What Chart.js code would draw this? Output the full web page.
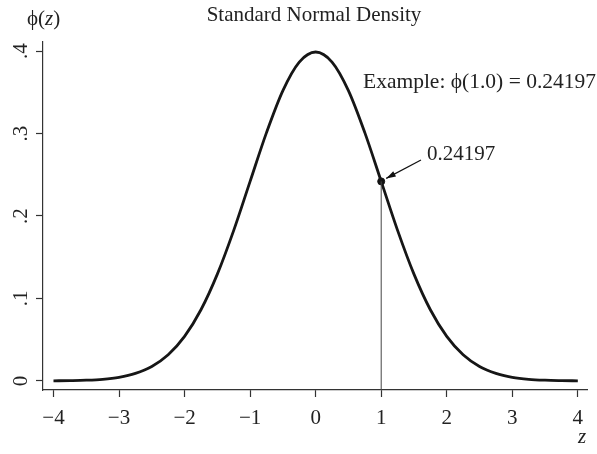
<!DOCTYPE html>
<html>
<head>
<meta charset="utf-8">
<script src="https://cdn.jsdelivr.net/npm/chart.js@4"></script>
<style>
  body { margin: 0; background: #fff; }
  #wrap { width: 597px; height: 454px; }
</style>
</head>
<body>
<div id="wrap"><canvas id="densityChart" width="597" height="454"></canvas></div>
<script>
// Datos
const zValues = [-4, -3.75, -3.5, -3.25, -3, -2.75, -2.5, -2.25, -2, -1.75, -1.5, -1.25, -1, -0.75, -0.5, -0.25,
                 0, 0.25, 0.5, 0.75, 1, 1.25, 1.5, 1.75, 2, 2.25, 2.5, 2.75, 3, 3.25, 3.5, 3.75, 4];
const densityValues = [0.0001, 0.0004, 0.0009, 0.0020, 0.0044, 0.0091, 0.0175, 0.0317, 0.0540, 0.0863, 0.1295, 0.1826, 0.2420, 0.3011, 0.3521, 0.3867,
                       0.3989, 0.3867, 0.3521, 0.3011, 0.2420, 0.1826, 0.1295, 0.0863, 0.0540, 0.0317, 0.0175, 0.0091, 0.0044, 0.0020, 0.0009, 0.0004, 0.0001];
const xTicks = [-4, -3, -2, -1, 0, 1, 2, 3, 4];
const yTicks = [0, 0.1, 0.2, 0.3, 0.4];
const yTickLabels = ['0', '.1', '.2', '.3', '.4'];
const exampleZ = [1];
const exampleDensity = [0.24197];

const serif = '"Liberation Serif", "DejaVu Serif", serif';
const ctx = document.getElementById('densityChart').getContext('2d');

// Textos, etiquetas del eje Y, línea vertical y flecha
const annotations = {
    id: 'annotations',
    afterDraw(chart) {
        const c = chart.ctx;
        const xs = chart.scales.x, ys = chart.scales.y;
        const area = chart.chartArea;
        c.save();
        c.fillStyle = '#222';

        // etiquetas Y giradas
        c.font = '21px ' + serif;
        c.textAlign = 'center';
        c.textBaseline = 'middle';
        yTicks.forEach((v, i) => {
            c.save();
            c.translate(21, ys.getPixelForValue(v));
            c.rotate(-Math.PI / 2);
            c.fillText(yTickLabels[i], 0, 0);
            c.restore();
        });

        // título
        c.font = '21px ' + serif;
        c.textAlign = 'center';
        c.fillText('Standard Normal Density', 314, 15);

        // phi(z)
        c.textAlign = 'left';
        let x = 27;
        c.fillText('\u03D5(', x, 19);
        x += c.measureText('\u03D5(').width;
        c.font = 'italic 21px ' + serif;
        c.fillText('z', x, 19);
        x += c.measureText('z').width;
        c.font = '21px ' + serif;
        c.fillText(')', x, 19);

        // z abajo
        c.font = 'italic 21px ' + serif;
        c.fillText('z', 578, 437);

        // ejemplo
        c.font = '21.5px ' + serif;
        c.fillText('Example: \u03D5(1.0) = 0.24197', 363, 82);
        c.font = '21px ' + serif;
        c.fillText('0.24197', 427, 154);

        // línea vertical en z = 1
        const px = xs.getPixelForValue(exampleZ[0]);
        const py = ys.getPixelForValue(exampleDensity[0]);
        c.strokeStyle = '#444';
        c.lineWidth = 1;
        c.beginPath();
        c.moveTo(px, py);
        c.lineTo(px, area.bottom);
        c.stroke();

        // flecha
        const x0 = 421, y0 = 160, x1 = px + 5, y1 = py - 3;
        const ang = Math.atan2(y1 - y0, x1 - x0);
        c.strokeStyle = '#111';
        c.lineWidth = 1.2;
        c.beginPath();
        c.moveTo(x0, y0);
        c.lineTo(x1, y1);
        c.stroke();
        c.fillStyle = '#111';
        c.beginPath();
        c.moveTo(x1, y1);
        c.lineTo(x1 - 10 * Math.cos(ang - 0.3), y1 - 10 * Math.sin(ang - 0.3));
        c.lineTo(x1 - 10 * Math.cos(ang + 0.3), y1 - 10 * Math.sin(ang + 0.3));
        c.closePath();
        c.fill();
        c.restore();
    }
};

new Chart(ctx, {
    type: 'line',
    data: {
        datasets: [{
            data: zValues.map((z, i) => ({ x: z, y: densityValues[i] })),
            borderColor: '#161616',
            borderWidth: 2.8,
            pointRadius: 0,
            cubicInterpolationMode: 'monotone',
            fill: false
        }, {
            data: exampleZ.map((z, i) => ({ x: z, y: exampleDensity[i] })),
            showLine: false,
            pointRadius: 3.5,
            pointBackgroundColor: '#111',
            pointBorderColor: '#111'
        }]
    },
    options: {
        responsive: false,
        animation: false,
        layout: { padding: { top: 42, right: 10, left: 0, bottom: 0 } },
        plugins: { legend: { display: false }, tooltip: { enabled: false } },
        scales: {
            x: {
                type: 'linear',
                min: -4.16,
                max: 4.14,
                afterBuildTicks: (scale) => { scale.ticks = xTicks.map(v => ({ value: v })); },
                afterFit: (scale) => { scale.height = 64; },
                grid: { drawOnChartArea: false, drawTicks: true, tickLength: 7, color: '#333', tickWidth: 1.2 },
                border: { display: true, color: '#333', width: 1.2 },
                ticks: {
                    autoSkip: false,
                    maxRotation: 0,
                    padding: 9,
                    color: '#222',
                    font: { family: serif, size: 21 },
                    callback: (v) => (v < 0 ? '\u2212' + Math.abs(v) : String(v))
                }
            },
            y: {
                min: -0.011,
                max: 0.411,
                afterBuildTicks: (scale) => { scale.ticks = yTicks.map(v => ({ value: v })); },
                afterFit: (scale) => { scale.width = 43; },
                grid: { drawOnChartArea: false, drawTicks: true, tickLength: 7, color: '#333', tickWidth: 1.2 },
                border: { display: true, color: '#333', width: 1.2 },
                ticks: { display: false }
            }
        }
    },
    plugins: [annotations]
});
</script>
</body>
</html>
